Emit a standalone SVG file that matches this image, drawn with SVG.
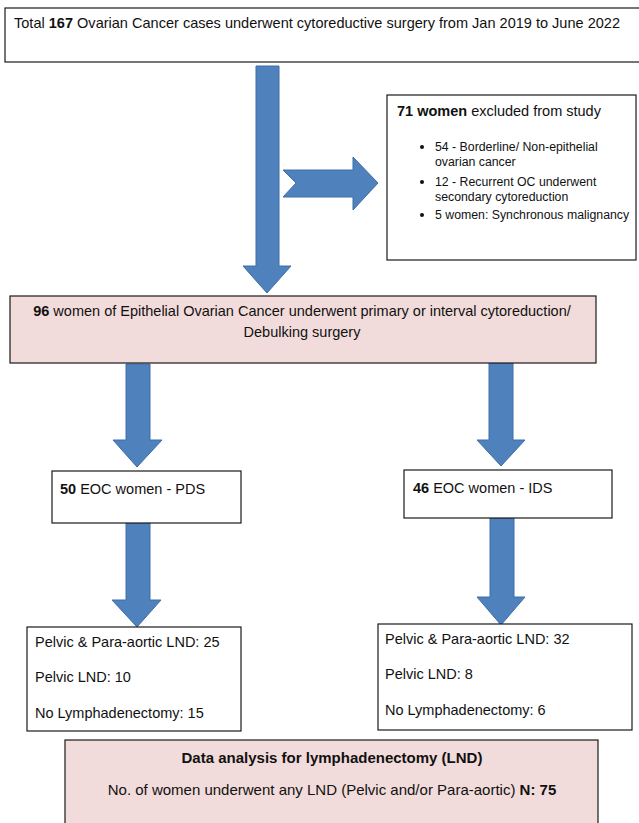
<svg xmlns="http://www.w3.org/2000/svg" width="639" height="823" viewBox="0 0 639 823">
<style>
  .box{fill:#ffffff;stroke:#1a1a1a;stroke-width:1.2}
  .pink{fill:#f2dcdb;stroke:#1a1a1a;stroke-width:1.2}
  .arr{fill:#4f81bd;stroke:#3d6ea8;stroke-width:1}
  text{font-family:"Liberation Sans",Arial,sans-serif;font-size:14.5px;fill:#111}
  .sm{font-size:12.3px}
  .b{font-weight:bold}
</style>
<rect width="639" height="823" fill="#ffffff"/>
<g id="connectors">
  <polygon class="arr" points="256,66 279,66 279,266 291,266 267,293 243,266 256,266"/>
  <polygon class="arr" points="283,170 353,170 353,157 378,183 353,210 353,197 283,197 296,183"/>
  <polygon class="arr" points="126,364 150,364 150,440 162,440 137,467 113,440 126,440"/>
  <polygon class="arr" points="489,363 513,363 513,440 525,440 501,466 477,440 489,440"/>
  <polygon class="arr" points="126,523 150,523 150,600 161,600 137,627 112,600 126,600"/>
  <polygon class="arr" points="490,518 514,518 514,597 525,597 501,625 477,597 490,597"/>
</g>
<g id="total">
  <rect class="box" x="5" y="8" width="640" height="54"/>
  <text x="14" y="28" textLength="606" lengthAdjust="spacingAndGlyphs">Total <tspan class="b">167</tspan> Ovarian Cancer cases underwent cytoreductive surgery from Jan 2019 to June 2022</text>
</g>
<g id="excluded">
  <rect class="box" x="387" y="95" width="249" height="165"/>
  <text x="397" y="116"><tspan class="b">71 women</tspan> excluded from study</text>
  <circle cx="422" cy="147" r="2" fill="#111"/>
  <text class="sm" x="435" y="151">54 - Borderline/ Non-epithelial</text>
  <text class="sm" x="435" y="166">ovarian cancer</text>
  <circle cx="422" cy="182" r="2" fill="#111"/>
  <text class="sm" x="435" y="186">12 - Recurrent OC underwent</text>
  <text class="sm" x="435" y="201">secondary cytoreduction</text>
  <circle cx="422" cy="215" r="2" fill="#111"/>
  <text class="sm" x="435" y="219">5 women: Synchronous malignancy</text>
</g>
<g id="eoc96">
  <rect class="pink" x="10" y="296" width="586" height="67"/>
  <text x="302" y="316" text-anchor="middle"><tspan class="b">96</tspan> women of Epithelial Ovarian Cancer underwent primary or interval cytoreduction/</text>
  <text x="302" y="337" text-anchor="middle">Debulking surgery</text>
</g>
<g id="pds">
  <rect class="box" x="52" y="471" width="189" height="52"/>
  <text x="60" y="494"><tspan class="b">50</tspan> EOC women - PDS</text>
</g>
<g id="ids">
  <rect class="box" x="404" y="470" width="208" height="48"/>
  <text x="413" y="493"><tspan class="b">46</tspan> EOC women - IDS</text>
</g>
<g id="pds-lnd">
  <rect class="box" x="27" y="627" width="214" height="104"/>
  <text x="35" y="647">Pelvic &amp; Para-aortic LND: 25</text>
  <text x="35" y="682">Pelvic LND: 10</text>
  <text x="35" y="718">No Lymphadenectomy: 15</text>
</g>
<g id="ids-lnd">
  <rect class="box" x="378" y="624" width="254" height="106"/>
  <text x="385" y="644">Pelvic &amp; Para-aortic LND: 32</text>
  <text x="385" y="679">Pelvic LND: 8</text>
  <text x="385" y="715">No Lymphadenectomy: 6</text>
</g>
<g id="analysis">
  <rect class="pink" x="65" y="740" width="533" height="90"/>
  <text class="b" x="332" y="763" text-anchor="middle" style="font-size:15px">Data analysis for lymphadenectomy (LND)</text>
  <text x="332" y="795" text-anchor="middle" style="font-size:15px">No. of women underwent any LND (Pelvic and/or Para-aortic) <tspan class="b">N: 75</tspan></text>
</g>
</svg>
